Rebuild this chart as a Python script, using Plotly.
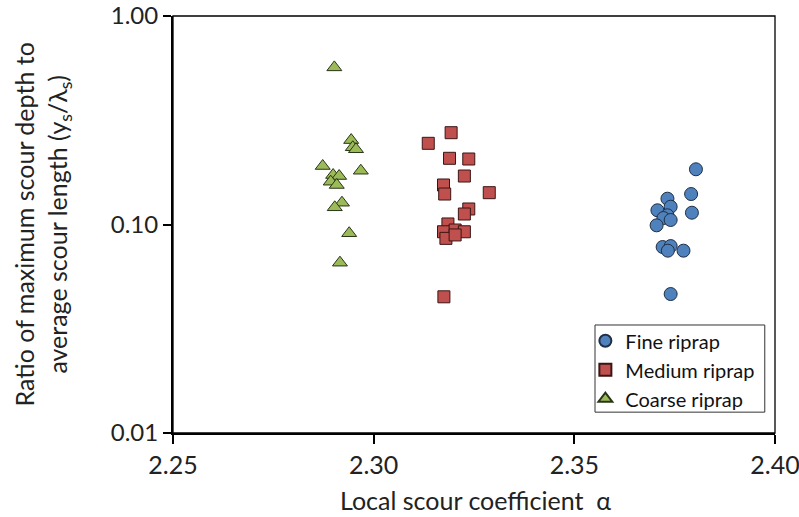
import plotly.graph_objects as go

# Fine riprap
fine_x = [2.3803, 2.3791, 2.3732, 2.3740, 2.3793, 2.3707, 2.3732, 2.3722, 2.3740, 2.3705,
          2.3720, 2.3740, 2.3733, 2.3772, 2.3740]
fine_y = [0.184, 0.140, 0.133, 0.1217, 0.1139, 0.117, 0.1107, 0.1074, 0.1051, 0.0991,
          0.078, 0.0788, 0.0749, 0.0749, 0.0464]

# Medium riprap
med_x = [2.3193, 2.3136, 2.3189, 2.3237, 2.3226, 2.3174, 2.3177, 2.3288, 2.3237, 2.3226,
         2.3185, 2.3174, 2.3203, 2.3226, 2.3180, 2.3203, 2.3175]
med_y = [0.2756, 0.2451, 0.2077, 0.2061, 0.1708, 0.1547, 0.140, 0.1421, 0.1187, 0.1123,
         0.1006, 0.0923, 0.0941, 0.0923, 0.0858, 0.0891, 0.045]

# Coarse riprap
coarse_x = [2.2902, 2.2944, 2.2948, 2.2956, 2.2873, 2.2968, 2.2899, 2.2914, 2.2893, 2.2908,
            2.2921, 2.2903, 2.2939, 2.2916]
coarse_y = [0.567, 0.254, 0.2346, 0.2295, 0.1908, 0.1811, 0.1727, 0.1708, 0.1604, 0.1547,
            0.1272, 0.1209, 0.0908, 0.0656]

x_ticks = [2.25, 2.30, 2.35, 2.40]
x_ticklabels = ["2.25", "2.30", "2.35", "2.40"]
y_ticks = [0.01, 0.1, 1.0]
y_ticklabels = ["0.01", "0.10", "1.00"]

x_title = "Local scour coefficient  α"
y_title = "Ratio of maximum scour depth to<br>average scour length (y<sub>s</sub>/λ<sub>s</sub>)"

FONT = "Lato"
TXT = "#222222"

fig = go.Figure()
fig.add_trace(go.Scatter(x=fine_x, y=fine_y, mode="markers", name="Fine riprap",
                         marker=dict(symbol="circle", size=13, color="#4F81BD",
                                     line=dict(color="#1F2F45", width=1))))
fig.add_trace(go.Scatter(x=med_x, y=med_y, mode="markers", name="Medium riprap",
                         marker=dict(symbol="square", size=12, color="#C0504D",
                                     line=dict(color="#3A1515", width=1))))
fig.add_trace(go.Scatter(x=coarse_x, y=coarse_y, mode="markers", name="Coarse riprap",
                         marker=dict(symbol="triangle-up", size=13, color="#9BBB59",
                                     line=dict(color="#2A3418", width=1))))

# plot-area frame
fig.add_shape(type="rect", xref="paper", yref="paper", x0=0, y0=0, x1=1, y1=1,
              line=dict(color="black", width=1.3), layer="above")
# legend frame
fig.add_shape(type="rect", xref="paper", yref="paper", x0=0.701, y0=0.050, x1=0.983, y1=0.259,
              line=dict(color="#333333", width=1), fillcolor="white", layer="below")

fig.add_annotation(text=x_title, xref="paper", yref="paper", x=0.503, y=-0.161,
                   xanchor="center", yanchor="middle", showarrow=False,
                   font=dict(family=FONT, size=25, color=TXT))
fig.add_annotation(text=y_title, xref="paper", yref="paper", x=-0.216, y=0.5,
                   xanchor="center", yanchor="middle", showarrow=False, textangle=-90,
                   font=dict(family=FONT, size=25, color=TXT))

fig.update_layout(
    width=799, height=517,
    margin=dict(l=173, r=24, t=16, b=84, autoexpand=False),
    paper_bgcolor="white", plot_bgcolor="white",
    font=dict(family=FONT, color=TXT, size=25),
    showlegend=True,
    legend=dict(x=0.685, y=0.268, xanchor="left", yanchor="top",
                borderwidth=0, bgcolor="rgba(0,0,0,0)",
                font=dict(family=FONT, size=20, color="#111111"),
                itemsizing="constant", tracegroupgap=0,
                traceorder="normal"),
    xaxis=dict(range=[2.25, 2.40], tickvals=x_ticks, ticktext=x_ticklabels,
               showgrid=False, zeroline=False, showline=True, linecolor="black", linewidth=2,
               ticks="outside", ticklen=9, tickwidth=2, tickcolor="black",
               tickfont=dict(size=25, family=FONT), automargin=False,
               ticklabeloverflow="allow"),
    yaxis=dict(type="log", range=[-2, 0], tickvals=y_ticks, ticktext=y_ticklabels,
               showgrid=False, zeroline=False, showline=True, linecolor="black", linewidth=2,
               ticks="outside", ticklen=8, tickwidth=2, tickcolor="black",
               tickfont=dict(size=24, family=FONT), automargin=False,
               ticklabeloverflow="allow"),
)

fig.write_html("out.html", config={"displayModeBar": False},
               post_script="document.body.style.margin='0';")
